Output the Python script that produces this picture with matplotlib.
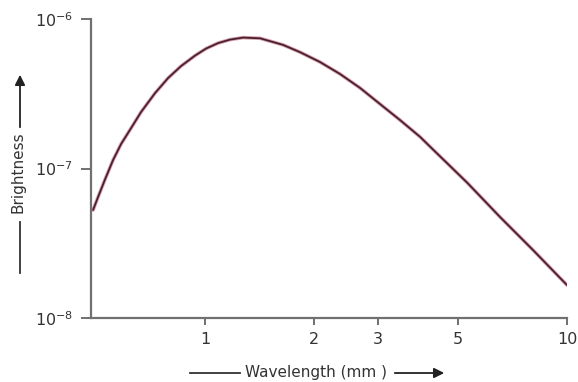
import numpy as np
import matplotlib
matplotlib.use("Agg")
from matplotlib import pyplot as plt
from matplotlib.ticker import FixedLocator, NullLocator

# values (wavelength in mm, brightness)
wavelength = [0.4905, 0.5063, 0.5284, 0.557, 0.586, 0.6247, 0.6654, 0.7276, 0.7902, 0.8585,
              0.9384, 1.0064, 1.0863, 1.1723, 1.2736, 1.419, 1.6427, 1.8296, 2.0782, 2.3604,
              2.6814, 3.0449, 3.457, 3.9263, 4.265, 5.2947, 6.5306, 8.0547, 10.0]
brightness = [5.28e-8, 6.45e-8, 8.38e-8, 1.140e-7, 1.458e-7, 1.866e-7, 2.387e-7, 3.199e-7, 4.03e-7, 4.85e-7,
              5.70e-7, 6.35e-7, 6.91e-7, 7.29e-7, 7.52e-7, 7.44e-7, 6.72e-7, 6.01e-7, 5.16e-7, 4.29e-7,
              3.46e-7, 2.70e-7, 2.11e-7, 1.63e-7, 1.34e-7, 8.06e-8, 4.74e-8, 2.85e-8, 1.66e-8]

x_ticks = [1, 2, 3, 5, 10]
x_tick_labels = ["1", "2", "3", "5", "10"]
y_ticks = [1e-8, 1e-7, 1e-6]
y_tick_labels = [r"$10^{-8}$", r"$10^{-7}$", r"$10^{-6}$"]

plt.rcParams['font.family'] = ['DejaVu Sans']
plt.rcParams['mathtext.fontset'] = 'dejavusans'

fig = plt.figure(figsize=(5.78, 3.82), dpi=100)
ax = fig.add_axes([0.1574, 0.1675, 0.9810 - 0.1574, 0.950 - 0.1675])

# pinkish fringe under a dark maroon line, as in the scanned original
ax.plot(wavelength, brightness, color='#d9a3b0', lw=2.6, solid_capstyle='round')
ax.plot(wavelength, brightness, color='#4a1f2e', lw=1.3, solid_capstyle='round')

ax.set_xscale('log')
ax.set_yscale('log')
ax.set_xlim(0.484, 10)
ax.set_ylim(1e-8, 1e-6)

ax.xaxis.set_major_locator(FixedLocator(x_ticks))
ax.xaxis.set_minor_locator(NullLocator())
ax.set_xticklabels(x_tick_labels)
ax.yaxis.set_major_locator(FixedLocator(y_ticks))
ax.yaxis.set_minor_locator(NullLocator())
ax.set_yticklabels(y_tick_labels)

for s in ['top', 'right']:
    ax.spines[s].set_visible(False)
for s in ['left', 'bottom']:
    ax.spines[s].set_color('#707070')
    ax.spines[s].set_linewidth(1.6)

ax.tick_params(axis='both', colors='#707070', width=1.4, labelsize=11.5,
               labelcolor='#333333')
ax.tick_params(axis='x', length=5, pad=5)
ax.tick_params(axis='y', length=7, pad=6)

# axis labels with arrows, like the original figure
lab = dict(color='#333333', fontsize=11)
fig.text(316 / 578, 1 - 372 / 382, "Wavelength (mm )", ha='center', va='center', **lab)
fig.add_artist(plt.Line2D([190 / 578, 240 / 578], [1 - 373 / 382] * 2, color='#333333', lw=1.3))
ax.annotate('', xy=(447 / 578, 1 - 373 / 382), xytext=(392 / 578, 1 - 373 / 382),
            xycoords='figure fraction',
            arrowprops=dict(arrowstyle='-|>', color='#222222', lw=1.3, mutation_scale=15))

fig.text(18 / 578, 1 - 172 / 382, "Brightness", ha='center', va='center', rotation=90, **lab)
fig.add_artist(plt.Line2D([20 / 578, 20 / 578], [1 - 222 / 382, 1 - 273 / 382], color='#333333', lw=1.3))
ax.annotate('', xy=(20 / 578, 1 - 72 / 382), xytext=(20 / 578, 1 - 130 / 382),
            xycoords='figure fraction',
            arrowprops=dict(arrowstyle='-|>', color='#222222', lw=1.3, mutation_scale=15))

fig.savefig("out.png", dpi=100)
